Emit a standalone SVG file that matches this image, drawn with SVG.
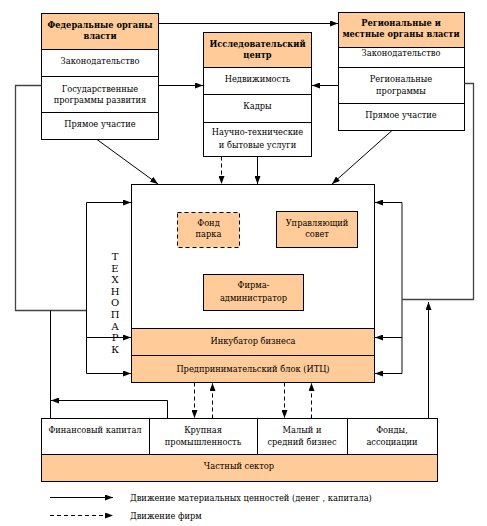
<svg xmlns="http://www.w3.org/2000/svg" width="487" height="526" viewBox="0 0 487 526">
<style>
.box{fill:#fff;stroke:#000;stroke-width:1}
.hd{fill:#FFCC99;stroke:#000;stroke-width:1}
.dash{stroke-dasharray:4,3}
.t{font-family:'DejaVu Serif Condensed','DejaVu Serif',serif;font-stretch:condensed;font-size:9.2px;fill:#000;text-anchor:middle}
.b{font-weight:bold}
.ln{fill:none;stroke:#000;stroke-width:1}
.gr{fill:none;stroke:#444;stroke-width:1.3}
.mono{font-family:'DejaVu Serif','Liberation Mono',serif;font-size:10px;fill:#000;text-anchor:middle}
.lg{text-anchor:start}
</style>
<defs>
<marker id="ar" viewBox="0 0 8 6" refX="8" refY="3" markerWidth="8" markerHeight="6" markerUnits="userSpaceOnUse" orient="auto">
<path d="M0,0 L8,3 L0,6 Z" fill="#000"/>
</marker>
</defs>
<rect width="487" height="526" fill="#fff"/>

<g id="federal">
<rect class="hd" x="41.5" y="13.5" width="117" height="36"/>
<rect class="box" x="41.5" y="49.5" width="117" height="27"/>
<rect class="box" x="41.5" y="76.5" width="117" height="36"/>
<rect class="box" x="41.5" y="112.5" width="117" height="27"/>
<text class="t b" x="100" y="28">Федеральные органы</text>
<text class="t b" x="100" y="39">власти</text>
<text class="t" x="100" y="64">Законодательство</text>
<text class="t" x="100" y="92">Государственные</text>
<text class="t" x="100" y="103">программы развития</text>
<text class="t" x="100" y="127">Прямое участие</text>
</g>

<g id="research">
<rect class="hd" x="203.5" y="32.5" width="108" height="35"/>
<rect class="box" x="203.5" y="67.5" width="108" height="27"/>
<rect class="box" x="203.5" y="94.5" width="108" height="28"/>
<rect class="box" x="203.5" y="122.5" width="108" height="34"/>
<text class="t b" x="257.5" y="46.5">Исследовательский</text>
<text class="t b" x="257.5" y="57.5">центр</text>
<text class="t" x="257.5" y="81.5">Недвижимость</text>
<text class="t" x="257.5" y="108.5">Кадры</text>
<text class="t" x="257.5" y="134.5">Научно-технические</text>
<text class="t" x="257.5" y="147.5">и бытовые услуги</text>
</g>

<g id="regional">
<rect class="hd" x="338.5" y="12.5" width="126" height="35"/>
<rect class="box" x="338.5" y="47.5" width="126" height="20"/>
<rect class="box" x="338.5" y="67.5" width="126" height="36"/>
<rect class="box" x="338.5" y="103.5" width="126" height="27"/>
<text class="t b" x="401" y="25.5">Региональные и</text>
<text class="t b" x="401" y="36.5">местные органы власти</text>
<text class="t" x="401" y="55.5">Законодательство</text>
<text class="t" x="401" y="81.5">Региональные</text>
<text class="t" x="401" y="93.5">программы</text>
<text class="t" x="401" y="117.5">Прямое участие</text>
</g>

<g id="technopark">
<rect class="box" x="131.5" y="184.5" width="243" height="198"/>
<text class="mono" x="115" y="260">Т</text>
<text class="mono" x="115" y="271.6">Е</text>
<text class="mono" x="115" y="283.2">Х</text>
<text class="mono" x="115" y="294.8">Н</text>
<text class="mono" x="115" y="306.4">О</text>
<text class="mono" x="115" y="318">П</text>
<text class="mono" x="115" y="329.6">А</text>
<text class="mono" x="115" y="341.2">Р</text>
<text class="mono" x="115" y="352.8">К</text>
</g>

<g id="fund">
<rect class="hd dash" x="177.5" y="212.5" width="62" height="35"/>
<text class="t" x="208.5" y="225.5">Фонд</text>
<text class="t" x="208.5" y="236.5">парка</text>
</g>

<g id="council">
<rect class="hd" x="276.5" y="211.5" width="81" height="36"/>
<text class="t" x="317" y="225.5">Управляющий</text>
<text class="t" x="317" y="236.5">совет</text>
</g>

<g id="admin">
<rect class="hd" x="203.5" y="274.5" width="100" height="36"/>
<text class="t" x="253.5" y="287.5">Фирма-</text>
<text class="t" x="253.5" y="300.5">администратор</text>
</g>

<g id="incubator">
<rect class="hd" x="131.5" y="328.5" width="243" height="27"/>
<text class="t" x="253" y="343.5">Инкубатор бизнеса</text>
</g>

<g id="entrepreneur">
<rect class="hd" x="131.5" y="355.5" width="243" height="27"/>
<text class="t" x="253" y="371.5">Предпринимательский блок (ИТЦ)</text>
</g>

<g id="private">
<rect class="box" x="41.5" y="418.5" width="108" height="36"/>
<rect class="box" x="149.5" y="418.5" width="108" height="36"/>
<rect class="box" x="257.5" y="418.5" width="90" height="36"/>
<rect class="box" x="347.5" y="418.5" width="90" height="36"/>
<rect class="hd" x="41.5" y="454.5" width="396" height="27"/>
<text class="t" x="95" y="432.5">Финансовый капитал</text>
<text class="t" x="203" y="432.5">Крупная</text>
<text class="t" x="203" y="444.5">промышленность</text>
<text class="t" x="302" y="432.5">Малый и</text>
<text class="t" x="302" y="444.5">средний бизнес</text>
<text class="t" x="392" y="432.5">Фонды,</text>
<text class="t" x="392" y="444.5">ассоциации</text>
<text class="t" x="239" y="468.5">Частный сектор</text>
</g>

<g id="connectors">
<line class="ln" x1="158.5" y1="23.5" x2="338" y2="23.5" marker-end="url(#ar)"/>
<line class="ln" x1="158.5" y1="85.5" x2="203" y2="85.5" marker-end="url(#ar)"/>
<line class="ln" x1="338.5" y1="85.5" x2="312" y2="85.5" marker-end="url(#ar)"/>
<line class="ln" x1="97" y1="139.5" x2="158" y2="184" marker-end="url(#ar)"/>
<line class="ln" x1="392" y1="130.5" x2="332" y2="184" marker-end="url(#ar)"/>
<line class="ln dash" x1="221.5" y1="156.5" x2="221.5" y2="184" marker-end="url(#ar)"/>
<line class="ln" x1="257.5" y1="156.5" x2="257.5" y2="184" marker-end="url(#ar)"/>

<polyline class="gr" points="41.5,85.5 15.5,85.5 15.5,310.5 86.5,310.5"/>
<line class="ln" x1="86.5" y1="202.5" x2="86.5" y2="373.5"/>
<line class="ln" x1="86.5" y1="202.5" x2="131" y2="202.5" marker-end="url(#ar)"/>
<line class="ln" x1="86.5" y1="337.5" x2="131" y2="337.5" marker-end="url(#ar)"/>
<line class="ln" x1="86.5" y1="373.5" x2="131" y2="373.5" marker-end="url(#ar)"/>
<line class="ln" x1="50.5" y1="310.5" x2="50.5" y2="418.5"/>
<polyline class="ln" points="167.5,418.5 167.5,400.5 51,400.5" marker-end="url(#ar)"/>

<line class="gr" x1="402" y1="202.5" x2="402" y2="373.5"/>
<line class="ln" x1="402" y1="202.5" x2="375" y2="202.5" marker-end="url(#ar)"/>
<line class="ln" x1="402" y1="337.5" x2="375" y2="337.5" marker-end="url(#ar)"/>
<line class="ln" x1="402" y1="373.5" x2="375" y2="373.5" marker-end="url(#ar)"/>
<polyline class="gr" points="464.5,83.5 473.5,83.5 473.5,299.5 402,299.5"/>
<line class="ln" x1="428.5" y1="418.5" x2="428.5" y2="302" marker-end="url(#ar)"/>

<line class="ln dash" x1="194.5" y1="382.5" x2="194.5" y2="418" marker-end="url(#ar)"/>
<line class="ln dash" x1="212.5" y1="418.5" x2="212.5" y2="383" marker-end="url(#ar)"/>
<line class="ln dash" x1="284.5" y1="382.5" x2="284.5" y2="418" marker-end="url(#ar)"/>
<line class="ln dash" x1="311.5" y1="418.5" x2="311.5" y2="383" marker-end="url(#ar)"/>
</g>

<g id="legend">
<line class="ln" x1="50" y1="497.5" x2="113" y2="497.5" marker-end="url(#ar)"/>
<line class="ln dash" x1="50" y1="515.5" x2="113" y2="515.5" marker-end="url(#ar)"/>
<text class="t lg" x="130" y="501">Движение материальных ценностей (денег ,  капитала)</text>
<text class="t lg" x="130" y="519">Движение фирм</text>
</g>
</svg>
